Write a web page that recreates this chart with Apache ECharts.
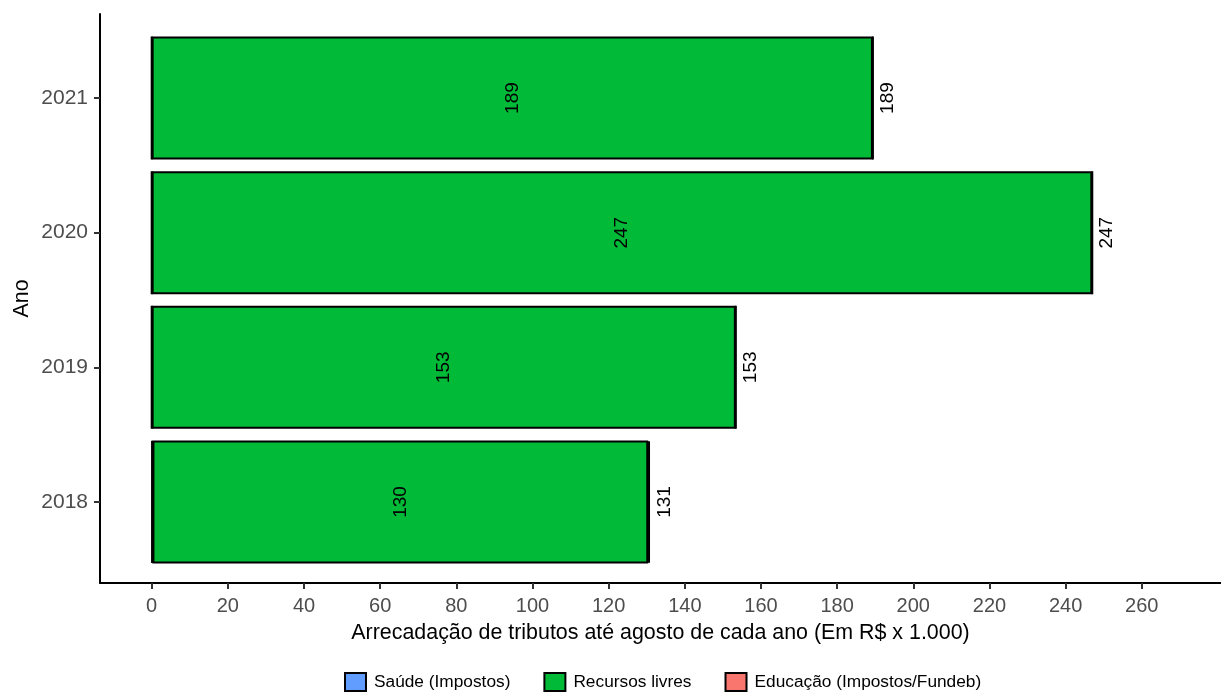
<!DOCTYPE html>
<html>
<head>
<meta charset="utf-8">
<script src="https://cdn.jsdelivr.net/npm/echarts@6/dist/echarts.min.js"></script>
<style>
html,body{margin:0;padding:0;background:#fff;}
#c{width:1221px;height:693px;}
</style>
</head>
<body>
<div id="c"></div>
<script>
const years = ['2018', '2019', '2020', '2021'];
const saude = [0.2, 0, 0, 0];
const recursosLivres = [130.2, 153.4, 247.0, 189.4];
const educacao = [0.4, 0, 0, 0];
const xTicks = [0, 20, 40, 60, 80, 100, 120, 140, 160, 180, 200, 220, 240, 260];
const seriesNames = ['Saúde (Impostos)', 'Recursos livres', 'Educação (Impostos/Fundeb)'];

const totals = years.map((y, i) => saude[i] + recursosLivres[i] + educacao[i]);

const FONT = 'Liberation Sans, Arial, sans-serif';
const xMin = -13.57, xMax = 280.8;

const chart = echarts.init(document.getElementById('c'), null, {renderer: 'canvas'});

function barSeries(name, data, color, showLabel) {
  return {
    name: name,
    type: 'bar',
    stack: 'total',
    xAxisIndex: 0,
    yAxisIndex: 0,
    barWidth: 123,
    data: data,
    itemStyle: {color: color, borderColor: '#000', borderWidth: 2},
    label: {
      show: showLabel,
      position: 'inside',
      rotate: 90,
      color: '#000',
      fontFamily: FONT,
      fontSize: 19,
      formatter: p => p.value > 1 ? String(Math.round(p.value)) : ''
    },
    emphasis: {disabled: true},
    animation: false
  };
}

const option = {
  backgroundColor: '#fff',
  animation: false,
  grid: [
    {left: 100, right: 0, top: 30.7, bottom: 123.7, containLabel: false},
    {left: 100, right: 0, top: 14, bottom: 110, containLabel: false}
  ],
  legend: {
    data: seriesNames,
    left: 344,
    top: 672,
    padding: 0,
    itemWidth: 21,
    itemHeight: 18,
    itemGap: 33,
    icon: 'rect',
    textStyle: {fontFamily: FONT, fontSize: 17.3, color: '#000', padding: [0, 0, 0, 3]},
    itemStyle: {borderColor: '#000', borderWidth: 2}
  },
  xAxis: [
    {
      type: 'value', gridIndex: 0, min: xMin, max: xMax,
      show: false
    },
    {
      type: 'value', gridIndex: 1, min: xMin, max: xMax,
      name: 'Arrecadação de tributos até agosto de cada ano (Em R$ x 1.000)',
      nameLocation: 'middle',
      nameGap: 40,
      nameTextStyle: {fontFamily: FONT, fontSize: 21.4, color: '#000'},
      axisLine: {show: true, onZero: false, lineStyle: {color: '#000', width: 2}},
      axisTick: {show: true, length: 6, customValues: xTicks, lineStyle: {color: '#333', width: 2}},
      axisLabel: {
        show: true, customValues: xTicks, margin: 13,
        fontFamily: FONT, fontSize: 20, color: '#4d4d4d'
      },
      splitLine: {show: false}
    }
  ],
  yAxis: [
    {
      type: 'category', gridIndex: 0, data: years,
      axisLine: {show: false, onZero: false},
      axisTick: {show: true, alignWithLabel: true, length: 6, lineStyle: {color: '#333', width: 2}},
      axisLabel: {margin: 12, fontFamily: FONT, fontSize: 21, color: '#4d4d4d'},
      splitLine: {show: false}
    },
    {
      type: 'value', gridIndex: 1, min: 0, max: 1,
      name: 'Ano',
      nameLocation: 'middle',
      nameGap: 67,
      nameRotate: 90,
      nameTextStyle: {fontFamily: FONT, fontSize: 21.4, color: '#000'},
      axisLine: {show: true, onZero: false, lineStyle: {color: '#000', width: 2}},
      axisTick: {show: false},
      axisLabel: {show: false},
      splitLine: {show: false}
    }
  ],
  series: [
    barSeries(seriesNames[0], saude, '#619CFF', false),
    barSeries(seriesNames[1], recursosLivres, '#00BA38', true),
    barSeries(seriesNames[2], educacao, '#F8766D', false),
    {
      name: 'total',
      type: 'bar',
      xAxisIndex: 0,
      yAxisIndex: 0,
      barWidth: 123,
      barGap: '-100%',
      data: totals,
      itemStyle: {color: 'rgba(0,0,0,0)', borderWidth: 0},
      label: {
        show: true,
        position: 'right',
        distance: 5,
        rotate: 90,
        align: 'center',
        verticalAlign: 'top',
        color: '#000',
        fontFamily: FONT,
        fontSize: 19,
        formatter: p => String(Math.round(p.value))
      },
      z: 1,
      silent: true,
      emphasis: {disabled: true}
    }
  ]
};
chart.setOption(option);
</script>
</body>
</html>
